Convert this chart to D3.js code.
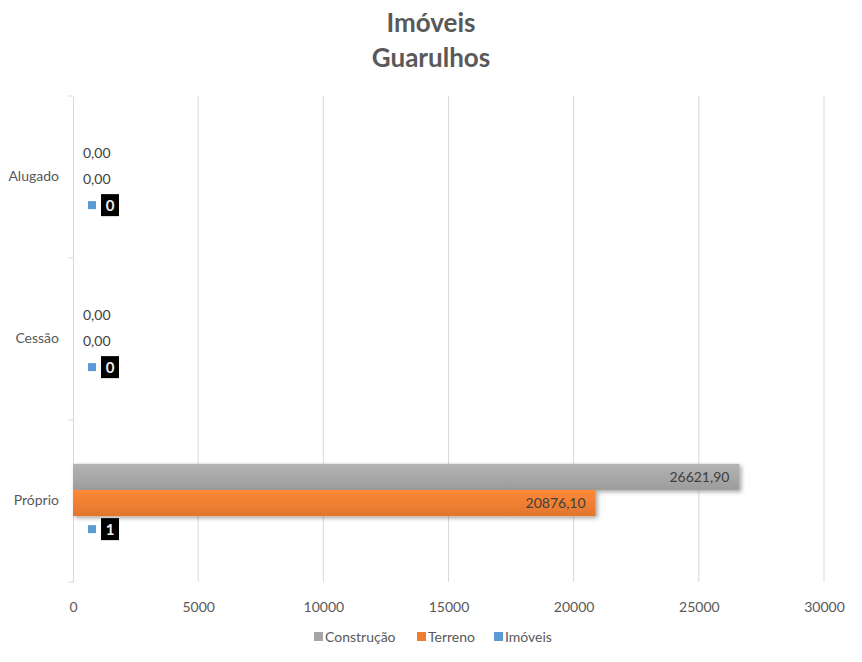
<!DOCTYPE html>
<html><head><meta charset="utf-8">
<script src="https://cdn.jsdelivr.net/npm/d3@7"></script>
<style>body{margin:0;background:#fff}svg{display:block}text{font-family:Lato,"Open Sans",sans-serif}</style>
</head><body><svg id="c" width="862" height="662"></svg>
<script>
const categories = ["Alugado", "Cessão", "Próprio"];
const seriesNames = ["Construção", "Terreno", "Imóveis"];
const construcao = [0, 0, 26621.9];
const terreno = [0, 0, 20876.1];
const imoveis = [0, 0, 1];
const xTicks = [0, 5000, 10000, 15000, 20000, 25000, 30000];
const colors = ["#A5A5A5", "#ED7D31", "#5B9BD5"];

const svg = d3.select("#c");
const L = 73, R = 824, T = 96, B = 582;
const x = d3.scaleLinear().domain([0, 30000]).range([L, R]);
const y = d3.scaleBand().domain(categories).range([T, B]);
const inner = d3.scaleBand().domain(seriesNames).range([2, y.bandwidth()+2]).paddingOuter(1.6);

const defs = svg.append("defs");
const f = defs.append("filter").attr("id","sh").attr("x","-5%").attr("y","-30%").attr("width","110%").attr("height","180%");
f.append("feDropShadow").attr("dx",2).attr("dy",2).attr("stdDeviation",2).attr("flood-color","#000").attr("flood-opacity",0.35);
colors.forEach((c,i)=>{
  const g = defs.append("linearGradient").attr("id","g"+i).attr("x1",0).attr("y1",0).attr("x2",0).attr("y2",1);
  g.append("stop").attr("offset","0%").attr("stop-color",d3.color(c).brighter(0.25));
  g.append("stop").attr("offset","100%").attr("stop-color",d3.color(c).darker(0.15));
});

// title
svg.append("text").attr("x",431).attr("y",32).attr("text-anchor","middle").attr("font-size",26).attr("font-weight","bold").attr("fill","#595959").text("Imóveis");
svg.append("text").attr("x",431).attr("y",67).attr("text-anchor","middle").attr("font-size",26).attr("font-weight","bold").attr("fill","#595959").text("Guarulhos");

// gridlines
svg.append("g").selectAll("line").data(xTicks.slice(1)).join("line")
  .attr("x1",d=>x(d)).attr("x2",d=>x(d)).attr("y1",T).attr("y2",B)
  .attr("stroke","#D9D9D9").attr("stroke-width",1);

// x axis labels
const xa = svg.append("g").attr("transform",`translate(0,${B})`).call(d3.axisBottom(x).tickValues(xTicks).tickSize(0).tickPadding(20).tickFormat(d3.format("d")));
xa.select(".domain").remove();
xa.selectAll("text").attr("font-size",14).attr("fill","#595959").style("font-family","Lato,sans-serif");

// y axis
const ya = svg.append("g").attr("transform",`translate(${L},0)`).call(d3.axisLeft(y).tickSize(0).tickPadding(14));
ya.select(".domain").attr("stroke","#D9D9D9");
ya.selectAll("text").attr("font-size",14).attr("fill","#595959").style("font-family","Lato,sans-serif");
svg.append("g").selectAll("line").data([T, T+y.step(), T+2*y.step(), B]).join("line")
  .attr("x1",L-5).attr("x2",L).attr("y1",d=>d).attr("y2",d=>d).attr("stroke","#D9D9D9");

const data = categories.map((c,i)=>({cat:c, vals:[construcao[i], terreno[i], imoveis[i]]}));
const fmt = v => v.toFixed(2).replace(".", ",");

const groups = svg.append("g").selectAll("g").data(data).join("g")
  .attr("transform", d=>`translate(0,${y(d.cat)})`);
groups.selectAll("rect").data(d=>d.vals.map((v,i)=>({v,i}))).join("rect")
  .attr("x", x(0)).attr("y", d=>inner(seriesNames[d.i]))
  .attr("width", d=>Math.max(x(d.v)-x(0), 0)).attr("height", inner.bandwidth())
  .attr("fill", d=>`url(#g${d.i})`).attr("filter","url(#sh)");

// labels for Construção & Terreno
groups.selectAll("text.lab").data(d=>d.vals.slice(0,2).map((v,i)=>({v,i}))).join("text")
  .attr("class","lab")
  .attr("x", d=> d.v > 2000 ? x(d.v)-10 : x(d.v)+10)
  .attr("text-anchor", d=> d.v > 2000 ? "end" : "start")
  .attr("y", d=>inner(seriesNames[d.i]) + inner.bandwidth()/2 + 5)
  .attr("font-size",14).attr("fill","#404040")
  .text(d=>fmt(d.v));

// Imóveis labels with legend key and black box
groups.each(function(d){
  const g = d3.select(this);
  const cy = inner(seriesNames[2]) + inner.bandwidth()/2;
  g.append("rect").attr("x",x(d.vals[2])+15).attr("y",cy-4).attr("width",8).attr("height",8).attr("fill",colors[2]);
  g.append("rect").attr("x",x(d.vals[2])+28).attr("y",cy-11).attr("width",18).attr("height",22).attr("fill","#000");
  g.append("text").attr("x",x(d.vals[2])+37).attr("y",cy+6).attr("text-anchor","middle")
    .attr("font-size",15).attr("font-weight","bold").attr("fill","#eee").text(d3.format("d")(d.vals[2]));
});

// legend
const lg = svg.append("g");
const lx = [314, 417, 494];
seriesNames.forEach((s,i)=>{
  lg.append("rect").attr("x",lx[i]).attr("y",632).attr("width",9).attr("height",9).attr("fill",colors[i]);
  lg.append("text").attr("x",lx[i]+11).attr("y",642).attr("font-size",14).attr("fill","#595959").text(s);
});
</script></body></html>
